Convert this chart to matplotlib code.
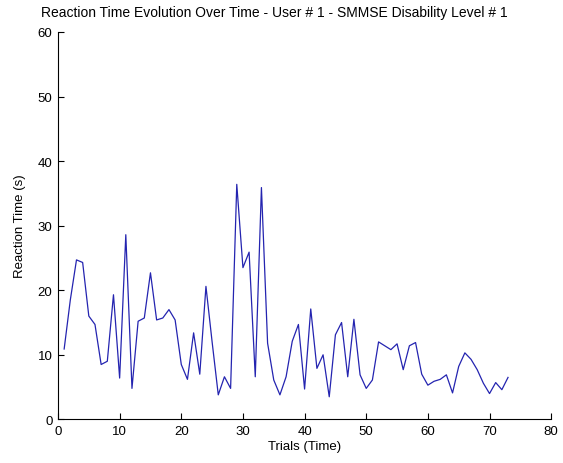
import matplotlib
matplotlib.use('Agg')
import matplotlib.pyplot as plt

plt.rcParams['font.family'] = ['Liberation Sans', 'DejaVu Sans']

# Trials and measured reaction times (s)
trials = list(range(1, 74))
reaction_time = [
    10.9, 18.5, 24.7, 24.3, 16.0, 14.7, 8.5, 9.0, 19.3, 6.4,
    28.6, 4.8, 15.2, 15.7, 22.7, 15.4, 15.7, 17.0, 15.4, 8.5,
    6.2, 13.4, 7.0, 20.6, 12.0, 3.8, 6.6, 4.8, 36.4, 23.5,
    25.9, 6.6, 35.9, 11.8, 6.1, 3.8, 6.6, 12.1, 14.7, 4.7,
    17.1, 7.9, 10.0, 3.5, 13.1, 15.0, 6.6, 15.5, 6.9, 4.8,
    6.1, 12.0, 11.4, 10.8, 11.7, 7.7, 11.4, 11.9, 7.0, 5.3,
    5.9, 6.2, 6.9, 4.1, 8.2, 10.3, 9.3, 7.7, 5.6, 4.0,
    5.7, 4.6, 6.5,
]
xticks = [0, 10, 20, 30, 40, 50, 60, 70, 80]
yticks = [0, 10, 20, 30, 40, 50, 60]

fig = plt.figure(figsize=(5.63, 4.64), dpi=100)
ax = fig.add_axes([0.103, 0.094, 0.876, 0.835])

ax.plot(trials, reaction_time, color='#2424b0', linewidth=0.9)

ax.set_xlim(0, 80)
ax.set_ylim(0, 60)
ax.set_xticks(xticks)
ax.set_yticks(yticks)

# MATLAB-like look: box off, ticks inside
ax.spines['top'].set_visible(False)
ax.spines['right'].set_visible(False)
ax.tick_params(direction='in', length=4, labelsize=9.5, pad=4)

ax.set_xlabel('Trials (Time)', fontsize=9.5, labelpad=2)
ax.set_ylabel('Reaction Time (s)', fontsize=9.5, labelpad=8)

# title sits a little left of the axes centre, as in the original
fig.text(0.487, 0.972, 'Reaction Time Evolution Over Time - User # 1 - SMMSE Disability Level # 1',
         fontsize=10, ha='center', va='center')

fig.savefig('out.png', dpi=100)
